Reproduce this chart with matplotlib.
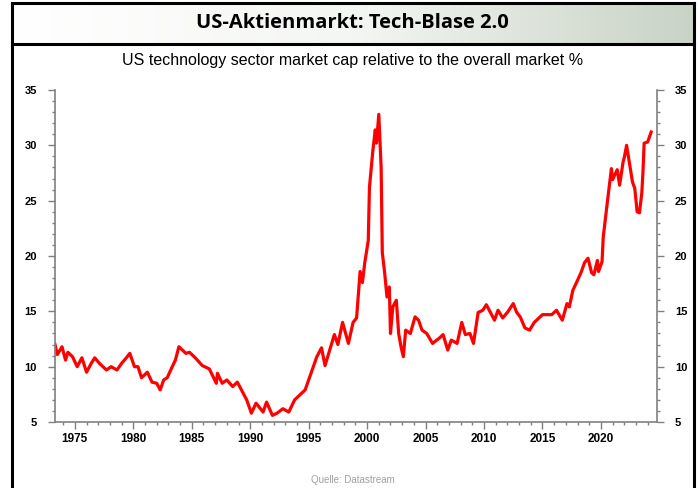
import numpy as np
import matplotlib
matplotlib.use("Agg")
import matplotlib.pyplot as plt
from matplotlib.ticker import MultipleLocator

# US tech sector market cap relative to total market, %
years = [1973.3, 1973.5, 1973.9, 1974.2, 1974.4, 1974.8, 1975.2, 1975.6, 1976.0, 1976.4,
         1976.7, 1977.1, 1977.7, 1978.1, 1978.6, 1979.0, 1979.4, 1979.7, 1980.1, 1980.4,
         1980.7, 1981.2, 1981.6, 1982.0, 1982.3, 1982.6, 1982.9, 1983.2, 1983.6, 1983.9,
         1984.2, 1984.5, 1984.8, 1985.3, 1985.9, 1986.5, 1987.1, 1987.2, 1987.6, 1988.0,
         1988.5, 1988.9, 1989.3, 1989.7, 1990.1, 1990.5, 1991.1, 1991.4, 1991.9, 1992.3,
         1992.8, 1993.3, 1993.8, 1994.2, 1994.7, 1995.1, 1995.7, 1996.1, 1996.4, 1996.8,
         1997.2, 1997.5, 1997.9, 1998.4, 1998.8, 1999.1, 1999.4, 1999.6, 1999.8, 2000.1,
         2000.2, 2000.5, 2000.7, 2000.8, 2001.0, 2001.2, 2001.3, 2001.5, 2001.7, 2001.9,
         2002.0, 2002.2, 2002.5, 2002.7, 2002.9, 2003.1, 2003.3, 2003.7, 2004.1, 2004.4,
         2004.7, 2005.1, 2005.6, 2006.2, 2006.5, 2006.9, 2007.2, 2007.7, 2008.1, 2008.4,
         2008.8, 2009.1, 2009.5, 2009.9, 2010.2, 2010.6, 2010.9, 2011.2, 2011.6, 2012.0,
         2012.5, 2012.8, 2013.1, 2013.5, 2013.9, 2014.3, 2015.0, 2015.8, 2016.2, 2016.7,
         2017.1, 2017.3, 2017.6, 2018.0, 2018.3, 2018.6, 2018.9, 2019.2, 2019.4, 2019.7,
         2019.8, 2020.1, 2020.2, 2020.5, 2020.9, 2021.0, 2021.4, 2021.6, 2021.9, 2022.0,
         2022.2, 2022.5, 2022.7, 2022.9, 2023.1, 2023.3, 2023.5, 2023.6, 2023.7, 2024.0,
         2024.3]
share = [12.0, 11.1, 11.8, 10.6, 11.3, 10.9, 10.0, 10.8, 9.5, 10.3,
         10.8, 10.3, 9.7, 10.0, 9.7, 10.3, 10.8, 11.2, 10.0, 10.0,
         9.0, 9.5, 8.6, 8.5, 7.9, 8.8, 9.0, 9.7, 10.6, 11.8,
         11.5, 11.2, 11.3, 10.8, 10.1, 9.8, 8.5, 9.4, 8.5, 8.8,
         8.2, 8.6, 7.8, 7.0, 5.8, 6.7, 5.9, 6.8, 5.6, 5.8,
         6.2, 5.9, 7.0, 7.4, 7.9, 9.1, 10.9, 11.7, 10.1, 11.5,
         12.9, 12.0, 14.0, 12.1, 14.0, 14.4, 18.6, 17.6, 19.4, 21.4,
         26.2, 29.6, 31.4, 30.2, 32.8, 28.0, 20.3, 18.5, 16.3, 17.2,
         13.0, 15.4, 16.0, 13.0, 11.8, 10.9, 13.3, 13.0, 14.5, 14.2,
         13.3, 13.0, 12.1, 12.6, 12.9, 11.5, 12.4, 12.1, 14.0, 12.9,
         13.0, 12.1, 14.9, 15.1, 15.6, 14.8, 14.2, 15.1, 14.4, 14.9,
         15.7, 14.9, 14.5, 13.5, 13.3, 14.0, 14.7, 14.7, 15.1, 14.2,
         15.7, 15.4, 16.9, 17.8, 18.5, 19.4, 19.8, 18.5, 18.3, 19.6,
         18.6, 19.5, 21.7, 24.4, 27.9, 26.9, 27.8, 26.4, 28.5, 28.9,
         30.0, 28.0, 26.7, 26.1, 24.0, 23.9, 25.7, 27.6, 30.2, 30.3,
         31.2]

title = "US-Aktienmarkt: Tech-Blase 2.0"
subtitle = "US technology sector market cap relative to the overall market %"
source = "Quelle: Datastream"

fig = plt.figure(figsize=(7, 4.88), dpi=100)
W, H = 700, 488

# title bar with a light gradient
grad = np.linspace(0, 1, 256).reshape(1, -1)
gax = fig.add_axes([12 / W, 1 - 44 / H, 682 / W, 41 / H])
cmap = matplotlib.colors.LinearSegmentedColormap.from_list("g", ["#ffffff", "#f4f6f3", "#c9d3c6"])
gax.imshow(grad, aspect="auto", cmap=cmap, extent=[0, 1, 0, 1])
gax.set_axis_off()

# outer frame lines
lw_frame = 2.2
fig.add_artist(plt.Line2D([12 / W, 12 / W], [0, 1 - 3 / H], color="black", lw=lw_frame))
fig.add_artist(plt.Line2D([694 / W, 694 / W], [0, 1 - 3 / H], color="black", lw=lw_frame))
fig.add_artist(plt.Line2D([12 / W, 694 / W], [1 - 3 / H, 1 - 3 / H], color="black", lw=lw_frame))
fig.add_artist(plt.Line2D([12 / W, 694 / W], [1 - 44 / H, 1 - 44 / H], color="black", lw=lw_frame))

fig.text(352 / W, 1 - 23 / H, title, ha="center", va="center", fontsize=14.5,
         fontweight="bold", family="Open Sans")
fig.text(353 / W, 1 - 61 / H, subtitle, ha="center", va="center", fontsize=11.5,
         family="Liberation Sans")
fig.text(353 / W, 1 - 480 / H, source, ha="center", va="center", fontsize=7,
         family="Liberation Sans", color="#a0a0a0")

ax = fig.add_axes([55 / W, 1 - 422 / H, 602 / W, 332 / H])
ax.plot(years, share, color="#ff0000", lw=2.3, solid_joinstyle="round")
ax.set_xlim(1973.3, 2024.8)
ax.set_ylim(5, 35)

ax.xaxis.set_major_locator(MultipleLocator(5))
ax.xaxis.set_minor_locator(MultipleLocator(1))
ax.yaxis.set_major_locator(MultipleLocator(5))
ax.yaxis.set_minor_locator(MultipleLocator(1))

spine_c = "#808080"
ax.spines["top"].set_visible(False)
for s in ["left", "right", "bottom"]:
    ax.spines[s].set_color(spine_c)
    ax.spines[s].set_linewidth(1.2)

ax.tick_params(which="both", direction="out", color=spine_c, width=1.0,
               left=True, right=True, labelright=True, labelleft=True)
ax.tick_params(which="major", length=5)
ax.tick_params(which="minor", length=2.5)
ax.tick_params(axis="x", pad=3, labelsize=8.5)
ax.tick_params(axis="y", pad=8, labelsize=8)

for lab in ax.get_xticklabels() + ax.get_yticklabels():
    lab.set_family("Liberation Sans")
    lab.set_fontweight("bold")
for lab in ax.yaxis.get_ticklabels(which="both"):
    lab.set_family("Liberation Sans")
    lab.set_fontweight("bold")
for t in ax.yaxis.get_major_ticks():
    t.label2.set_family("Liberation Sans")
    t.label2.set_fontweight("bold")

fig.savefig("out.png", dpi=100)
